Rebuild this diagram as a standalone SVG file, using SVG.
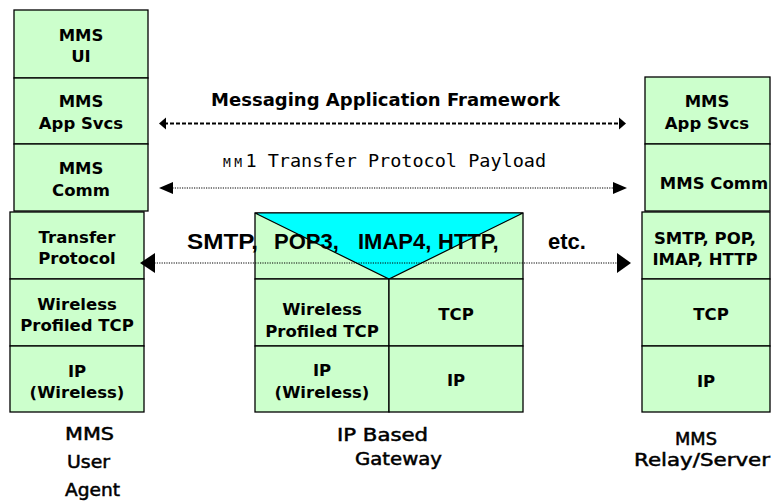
<svg xmlns="http://www.w3.org/2000/svg" width="771" height="504" viewBox="0 0 771 504">
<style>
.cell{fill:#CCFFCC;stroke:#000;stroke-width:1.3}
.tri{fill:#00FFFF;stroke:#000;stroke-width:1.2}
.lbl{font-family:"DejaVu Sans","Liberation Sans",sans-serif;font-weight:bold;font-size:16.5px;fill:#000;text-anchor:middle}
.big{font-family:"Liberation Sans",Arial,sans-serif;font-weight:bold;font-size:22px;fill:#000}
.cap{font-family:"DejaVu Sans","Liberation Sans",sans-serif;font-size:17px;fill:#000;stroke:#000;stroke-width:0.5}
.dash{stroke:#000;stroke-width:2;stroke-dasharray:4 2;fill:none}
.dot{stroke:#000;stroke-width:1.2;stroke-dasharray:1.2 1.2;fill:none}
.head{fill:#000}
</style>
<rect width="771" height="504" fill="#fff"/>

<!-- MMS User Agent stack -->
<g id="ua">
  <g id="ua-ui"><rect class="cell" x="14" y="10" width="134" height="68"/><text class="lbl"><tspan x="81" y="41">MMS</tspan><tspan x="81" y="62">UI</tspan></text></g>
  <g id="ua-app"><rect class="cell" x="14" y="78" width="134" height="66"/><text class="lbl"><tspan x="81" y="107">MMS</tspan><tspan x="81" y="129">App Svcs</tspan></text></g>
  <g id="ua-comm"><rect class="cell" x="14" y="144" width="134" height="67"/><text class="lbl"><tspan x="81" y="174">MMS</tspan><tspan x="81" y="196">Comm</tspan></text></g>
  <g id="ua-tp"><rect class="cell" x="10" y="212" width="134" height="67"/><text class="lbl"><tspan x="77" y="243">Transfer</tspan><tspan x="77" y="264">Protocol</tspan></text></g>
  <g id="ua-tcp"><rect class="cell" x="10" y="279" width="134" height="67"/><text class="lbl"><tspan x="77" y="310">Wireless</tspan><tspan x="77" y="331">Profiled TCP</tspan></text></g>
  <g id="ua-ip"><rect class="cell" x="10" y="346" width="134" height="66"/><text class="lbl"><tspan x="77" y="377">IP</tspan><tspan x="77" y="398">(Wireless)</tspan></text></g>
  <text class="cap"><tspan x="65" y="440" textLength="49" lengthAdjust="spacingAndGlyphs">MMS</tspan><tspan x="67" y="468" textLength="43" lengthAdjust="spacingAndGlyphs">User</tspan><tspan x="65" y="496" textLength="55" lengthAdjust="spacingAndGlyphs">Agent</tspan></text>
</g>

<!-- IP Based Gateway -->
<g id="gw">
  <g id="gw-top"><rect class="cell" x="255" y="213" width="268" height="66"/><polygon class="tri" points="255,213 523,213 389,279"/></g>
  <g id="gw-wtcp"><rect class="cell" x="255" y="279" width="134" height="67"/><text class="lbl"><tspan x="322" y="315">Wireless</tspan><tspan x="322" y="337">Profiled TCP</tspan></text></g>
  <g id="gw-tcp"><rect class="cell" x="389" y="279" width="134" height="67"/><text class="lbl" x="456" y="320">TCP</text></g>
  <g id="gw-wip"><rect class="cell" x="255" y="346" width="134" height="66"/><text class="lbl"><tspan x="322" y="376">IP</tspan><tspan x="322" y="398">(Wireless)</tspan></text></g>
  <g id="gw-ip"><rect class="cell" x="389" y="346" width="134" height="66"/><text class="lbl" x="456" y="386">IP</text></g>
  <text class="cap"><tspan x="337" y="441" textLength="91" lengthAdjust="spacingAndGlyphs">IP Based</tspan><tspan x="355" y="465" textLength="87" lengthAdjust="spacingAndGlyphs">Gateway</tspan></text>
</g>

<!-- MMS Relay/Server -->
<g id="rs">
  <g id="rs-app"><rect class="cell" x="645" y="77" width="125" height="67"/><text class="lbl"><tspan x="707" y="107">MMS</tspan><tspan x="707" y="129">App Svcs</tspan></text></g>
  <g id="rs-comm"><rect class="cell" x="645" y="144" width="125" height="67"/><text class="lbl" x="714" y="189">MMS Comm</text></g>
  <g id="rs-proto"><rect class="cell" x="642" y="212" width="128" height="67"/><text class="lbl"><tspan x="705" y="244">SMTP, POP,</tspan><tspan x="705" y="265">IMAP, HTTP</tspan></text></g>
  <g id="rs-tcp"><rect class="cell" x="642" y="279" width="128" height="67"/><text class="lbl" x="711" y="320">TCP</text></g>
  <g id="rs-ip"><rect class="cell" x="642" y="346" width="128" height="66"/><text class="lbl" x="706" y="387">IP</text></g>
  <text class="cap"><tspan x="675" y="445" textLength="42" lengthAdjust="spacingAndGlyphs">MMS</tspan><tspan x="634" y="466" textLength="136" lengthAdjust="spacingAndGlyphs">Relay/Server</tspan></text>
</g>

<!-- connectors -->
<g id="connectors">
  <line class="dash" x1="164" y1="123.5" x2="621" y2="123.5"/>
  <polygon class="head" points="159,123.5 166,117.5 166,129.5"/>
  <polygon class="head" points="626,123.5 619,117.5 619,129.5"/>
  <line class="dot" x1="170" y1="188" x2="616" y2="188"/>
  <polygon class="head" points="159,188 173,182 173,194"/>
  <polygon class="head" points="627,188 613,182 613,194"/>
  <line class="dot" x1="152" y1="263" x2="620" y2="263"/>
  <polygon class="head" points="140,263 155,253 155,273"/>
  <polygon class="head" points="631,263 617,253 617,273"/>
</g>

<!-- labels -->
<text class="lbl" x="385.5" y="106" style="font-size:18px">Messaging Application Framework</text>
<text style="font-family:'DejaVu Sans Mono','Liberation Mono',monospace;font-size:18.5px" y="167"><tspan x="223 234.2" style="font-size:13px">MM</tspan><tspan x="245.4">1 Transfer Protocol Payload</tspan></text>
<text class="big" y="249"><tspan x="187" textLength="71" lengthAdjust="spacingAndGlyphs">SMTP,</tspan><tspan x="274">POP3,</tspan><tspan x="358">IMAP4,</tspan><tspan x="438">HTTP,</tspan><tspan x="548">etc.</tspan></text>
</svg>
